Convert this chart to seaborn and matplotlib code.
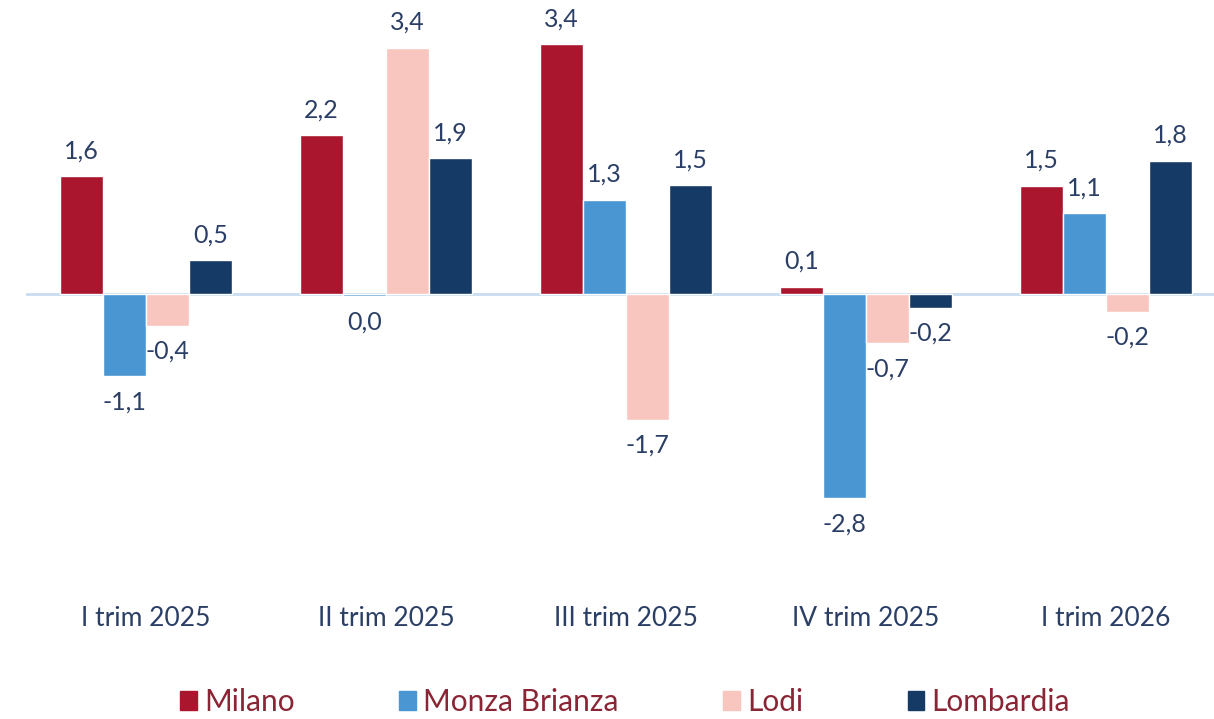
import matplotlib
matplotlib.use("Agg")
import matplotlib.pyplot as plt
import seaborn as sns
import pandas as pd

# data
periods = ["I trim 2025", "II trim 2025", "III trim 2025", "IV trim 2025", "I trim 2026"]
areas = ["Milano", "Monza Brianza", "Lodi", "Lombardia"]
milano = [1.6, 2.16, 3.4, 0.1, 1.47]
monza = [-1.12, -0.03, 1.28, -2.78, 1.1]
lodi = [-0.43, 3.35, -1.71, -0.67, -0.24]
lombardia = [0.46, 1.85, 1.48, -0.19, 1.81]

colors = ["#AA162D", "#4A96D2", "#F8C6BE", "#163A66"]
text_col = "#2B3F66"

rows = []
for name, vals in zip(areas, [milano, monza, lodi, lombardia]):
    for p, v in zip(periods, vals):
        rows.append({"periodo": p, "area": name, "valore": v})
df = pd.DataFrame(rows)

sns.set_theme(style="white")
plt.rcParams['font.family'] = ['Lato', 'DejaVu Sans']

fig = plt.figure(figsize=(12.14, 7.19), dpi=100)
ax = fig.add_axes([26 / 1214, 1 - 558.6 / 719, 1200 / 1214, 558.6 / 719])

sns.barplot(data=df, x="periodo", y="valore", hue="area", order=periods,
            hue_order=areas, palette=colors, saturation=1, width=0.72, gap=0.0,
            edgecolor="white", linewidth=1, legend=False, ax=ax)

ax.axhline(0, color="#C9DDF0", lw=2, zorder=0.5)


def fmt(v):
    if round(v, 1) == 0:
        return "0,0"
    return f"{v:.1f}".replace(".", ",")


for cont, vals in zip(ax.containers, [milano, monza, lodi, lombardia]):
    ax.bar_label(cont, labels=[fmt(v) for v in vals], padding=10,
                 fontsize=18, color=text_col)

ax.set_ylim(-3.6, 4.0)
ax.set_xlim(-0.5, 4.5)
ax.set_xlabel("")
ax.set_ylabel("")
ax.set_yticks([])
ax.tick_params(axis="x", length=0, pad=34, labelsize=19, labelcolor=text_col)
sns.despine(ax=ax, left=True, bottom=True)

handles = [plt.Rectangle((0, 0), 1, 1, color=c) for c in colors]
leg = fig.legend(handles, areas, loc="lower center", ncol=4,
                 bbox_to_anchor=(0.515, -0.013), frameon=False, borderaxespad=0,
                 handlelength=0.55, handleheight=0.6, handletextpad=0.25,
                 columnspacing=3.5, prop={"size": 21.5})
for t in leg.get_texts():
    t.set_color("#8A2535")

fig.savefig("out.png", dpi=100)
